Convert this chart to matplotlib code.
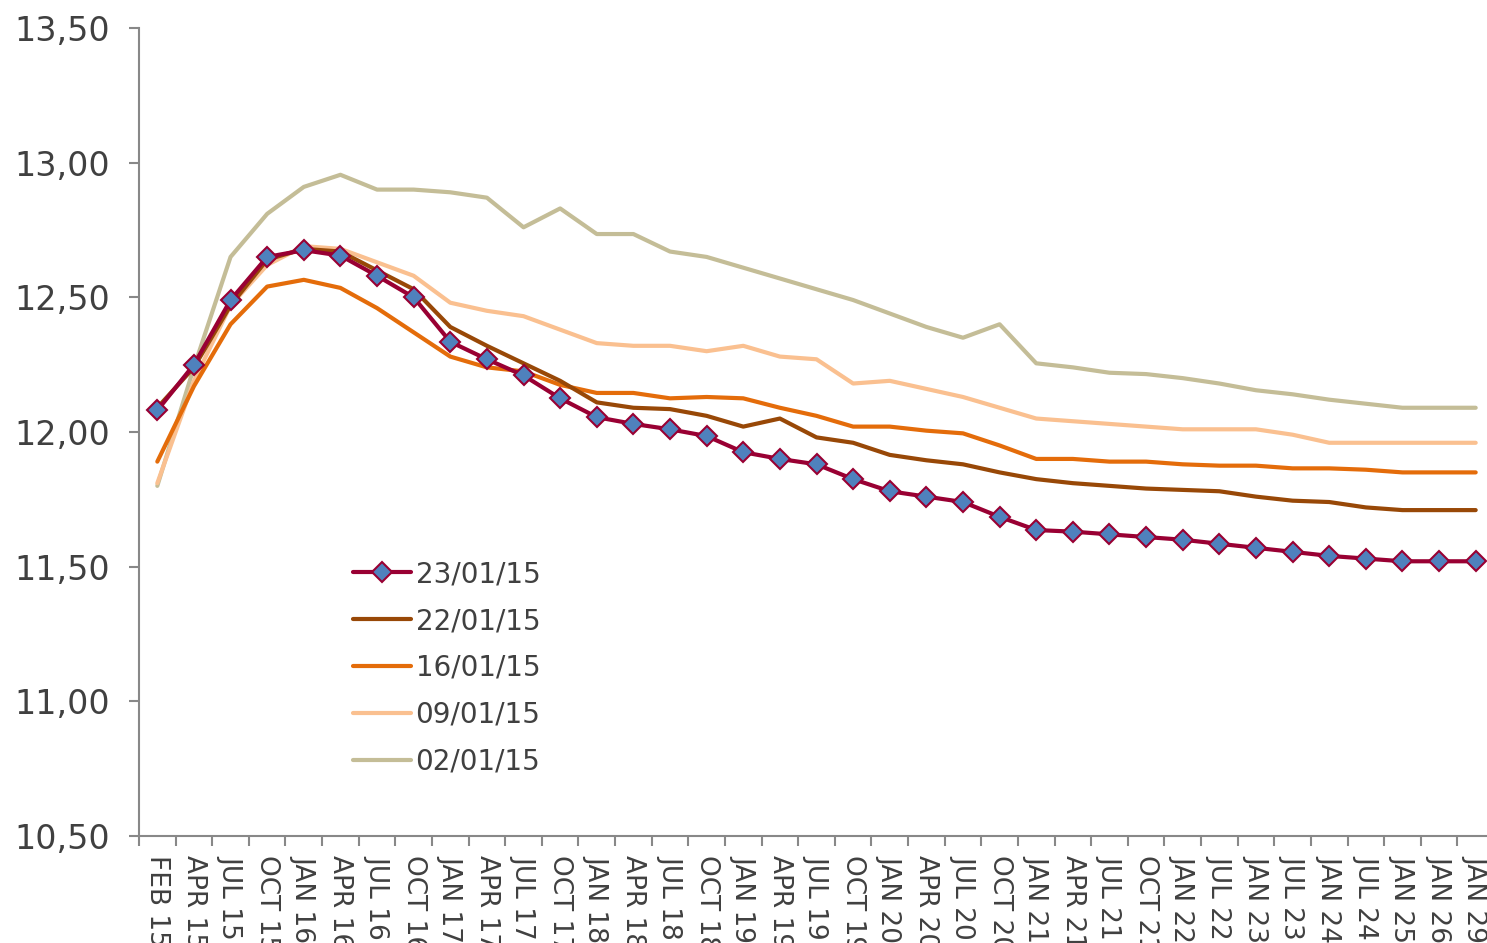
import matplotlib
matplotlib.use("Agg")
import matplotlib.pyplot as plt
import numpy as np

# x categories (contract months)
months = ["FEB 15", "APR 15", "JUL 15", "OCT 15", "JAN 16", "APR 16", "JUL 16", "OCT 16",
          "JAN 17", "APR 17", "JUL 17", "OCT 17", "JAN 18", "APR 18", "JUL 18", "OCT 18",
          "JAN 19", "APR 19", "JUL 19", "OCT 19", "JAN 20", "APR 20", "JUL 20", "OCT 20",
          "JAN 21", "APR 21", "JUL 21", "OCT 21", "JAN 22", "JUL 22", "JAN 23", "JUL 23",
          "JAN 24", "JUL 24", "JAN 25", "JAN 26", "JAN 29"]

# curves
c_230115 = [12.08, 12.25, 12.49, 12.65, 12.675, 12.655, 12.58, 12.50, 12.335, 12.27, 12.21, 12.125,
            12.055, 12.03, 12.01, 11.985, 11.925, 11.90, 11.88, 11.825, 11.78, 11.76, 11.74, 11.685,
            11.636, 11.63, 11.62, 11.61, 11.60, 11.585, 11.57, 11.555, 11.54, 11.53, 11.52, 11.52, 11.52]
c_220115 = [12.09, 12.24, 12.47, 12.64, 12.68, 12.67, 12.60, 12.53, 12.39, 12.32, 12.255, 12.19,
            12.11, 12.09, 12.085, 12.06, 12.02, 12.05, 11.98, 11.96, 11.915, 11.895, 11.88, 11.85,
            11.825, 11.81, 11.80, 11.79, 11.785, 11.78, 11.76, 11.745, 11.74, 11.72, 11.71, 11.71, 11.71]
c_160115 = [11.89, 12.17, 12.40, 12.54, 12.565, 12.535, 12.46, 12.37, 12.28, 12.24, 12.225, 12.175,
            12.145, 12.145, 12.125, 12.13, 12.125, 12.09, 12.06, 12.02, 12.02, 12.005, 11.995, 11.95,
            11.90, 11.90, 11.89, 11.89, 11.88, 11.875, 11.875, 11.865, 11.865, 11.86, 11.85, 11.85, 11.85]
c_090115 = [11.81, 12.19, 12.47, 12.62, 12.69, 12.68, 12.63, 12.58, 12.48, 12.45, 12.43, 12.38,
            12.33, 12.32, 12.32, 12.30, 12.32, 12.28, 12.27, 12.18, 12.19, 12.16, 12.13, 12.09,
            12.05, 12.04, 12.03, 12.02, 12.01, 12.01, 12.01, 11.99, 11.96, 11.96, 11.96, 11.96, 11.96]
c_020115 = [11.80, 12.24, 12.65, 12.81, 12.91, 12.955, 12.90, 12.90, 12.89, 12.87, 12.76, 12.83,
            12.735, 12.735, 12.67, 12.65, 12.61, 12.57, 12.53, 12.49, 12.44, 12.39, 12.35, 12.40,
            12.255, 12.24, 12.22, 12.215, 12.20, 12.18, 12.155, 12.14, 12.12, 12.105, 12.09, 12.09, 12.09]

labels = ["23/01/15", "22/01/15", "16/01/15", "09/01/15", "02/01/15"]

txt = "#404040"
axc = "#888888"

fig = plt.figure(figsize=(14.87, 9.43), dpi=100)
ax = fig.add_axes([139 / 1487, 1 - 836 / 943, (1494 - 139) / 1487, (836 - 28) / 943])

x = np.arange(len(months))
ax.plot(x, c_020115, color="#C4BD97", lw=3, label=labels[4], solid_capstyle="round", zorder=2)
ax.plot(x, c_090115, color="#FAC090", lw=3, label=labels[3], solid_capstyle="round", zorder=3)
ax.plot(x, c_160115, color="#E46C0A", lw=3, label=labels[2], solid_capstyle="round", zorder=4)
ax.plot(x, c_220115, color="#984807", lw=3, label=labels[1], solid_capstyle="round", zorder=5)
ax.plot(x, c_230115, color="#990033", lw=3, label=labels[0], marker="D", markersize=10,
        markerfacecolor="#4F81BD", markeredgecolor="#990033", markeredgewidth=1.5,
        solid_capstyle="round", zorder=6)

ax.set_xlim(-0.5, len(months) - 0.5)
ax.set_ylim(10.5, 13.5)

ax.set_yticks(np.arange(10.5, 13.51, 0.5))
ax.set_yticklabels([f"{v:.2f}".replace(".", ",") for v in np.arange(10.5, 13.51, 0.5)])
ax.tick_params(axis="y", colors=axc, labelcolor=txt, labelsize=24, length=7, width=1.5, pad=14)

ax.set_xticks(x)
ax.set_xticklabels(months, rotation=-90, va="top", ha="center")
ax.set_xticks(np.arange(-0.5, len(months)), minor=True)
ax.tick_params(axis="x", which="major", length=0, labelcolor=txt, labelsize=19, pad=14)
ax.tick_params(axis="x", which="minor", length=7, width=1.5, colors=axc)

for s in ["top", "right"]:
    ax.spines[s].set_visible(False)
for s in ["left", "bottom"]:
    ax.spines[s].set_color(axc)
    ax.spines[s].set_linewidth(1.5)

# legend order as in the picture
h, l = ax.get_legend_handles_labels()
order = [l.index(s) for s in labels]
leg = ax.legend([h[i] for i in order], labels, loc="upper left",
                bbox_to_anchor=(342 / 1487, 1 - 549 / 943), bbox_transform=fig.transFigure,
                frameon=False, fontsize=20, handlelength=2.1, handletextpad=0.15,
                labelspacing=0.68, borderaxespad=0)
for t in leg.get_texts():
    t.set_color(txt)

fig.savefig("out.png", dpi=100)
